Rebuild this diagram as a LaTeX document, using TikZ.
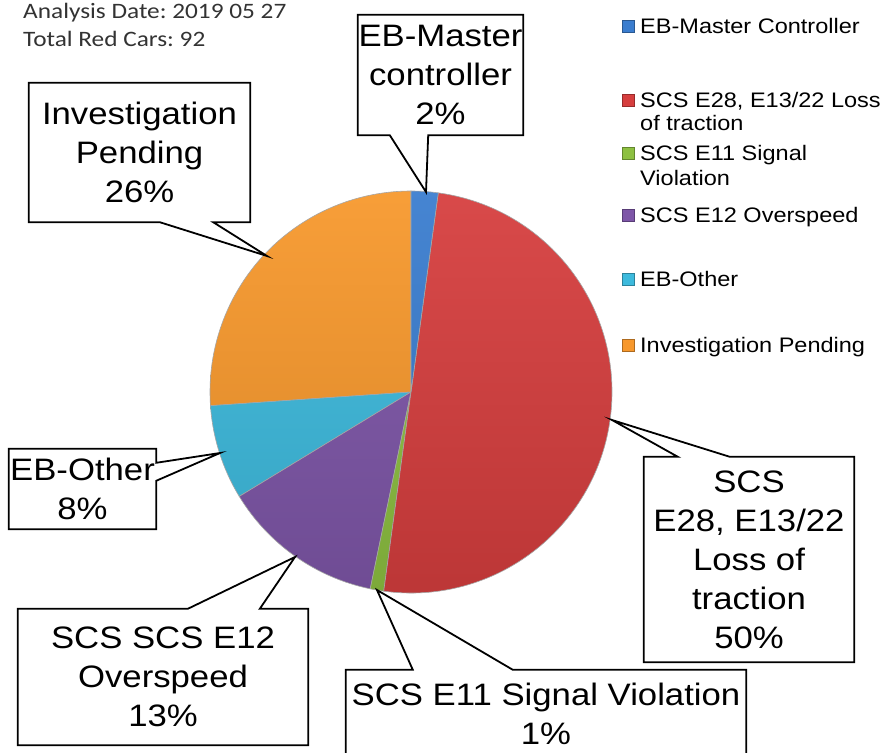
\documentclass[tikz,border=0pt]{standalone}
\usepackage{fontspec}
\setmainfont{Liberation Sans}[FakeStretch=1.12]
\newfontfamily\notefont{Carlito}[FakeStretch=1.15]
\usepackage{tikz}
\usetikzlibrary{calc}
\frenchspacing

\definecolor{cBlue}{HTML}{3A7DCF}
\definecolor{cRed}{HTML}{D63E3E}
\definecolor{cGreen}{HTML}{8DC041}
\definecolor{cPurple}{HTML}{7E56A8}
\definecolor{cCyan}{HTML}{3DBADD}
\definecolor{cOrange}{HTML}{F7982C}

\begin{document}
\begin{tikzpicture}[
  x=1pt, y=-1pt,
  callout/.style={draw, line width=1.8pt, line join=miter},
  lbl/.style={align=center, inner sep=0pt, font=\fontsize{31}{39}\selectfont},
  legtext/.style={anchor=base west, inner sep=0pt, font=\fontsize{21}{24}\selectfont},
  legkey/.style={minimum size=12pt, inner sep=0pt, line width=0.5pt},
  note/.style={anchor=base west, inner sep=0pt, text=black!80, font=\notefont\fontsize{22}{28}\selectfont},
  slice edge/.style={draw=black!35, line width=0.6pt}
]
\clip (0,0) rectangle (888,752);
\fill[white] (0,0) rectangle (888,752);

%% ---- NOTE (top left) ----
\node[note] (date)  at (23,19) {Analysis Date: 2019 05 27};
\node[note] (total) at (23,47) {Total Red Cars: 92};

%% ---- PIE ----
\coordinate (pie) at (411,392);
\foreach \a/\b/\col in {-90/-183.9/cOrange, -183.9/-211.3/cCyan, -211.3/-258.3/cPurple,
                        -258.3/-262.2/cGreen, -262.2/-442.2/cRed, -442.2/-450/cBlue}{
  \begin{scope}
    \clip (pie) -- ++(\a:201) arc[start angle=\a, end angle=\b, radius=201] -- cycle;
    \shade[top color=\col!94!white, bottom color=\col!88!black]
      ($(pie)+(-201,-201)$) rectangle ($(pie)+(201,201)$);
  \end{scope}
  \draw[slice edge] (pie) -- ++(\a:201) arc[start angle=\a, end angle=\b, radius=201] -- cycle;
}

%% ---- Pointer tips on the rim ----
\coordinate (tInv) at (267,256);
\coordinate (tEbm) at (426,192);
\coordinate (tScs) at (612,420);
\coordinate (tE11) at (377,590);
\coordinate (tEbo) at (220,453);
\coordinate (tE12) at (295,557);

%% ---- Callout labels ----
\node[lbl, minimum width=221pt, minimum height=139pt] at (139.5,152.5) (inv) {Investigation\\Pending\\26\%};
\node[lbl, minimum width=165pt, minimum height=120pt] at (440.5,75)   (ebm) {EB-Master\\controller\\2\%};
\node[lbl, minimum width=210pt, minimum height=205pt] at (749,559.5)  (scs) {SCS\\E28, E13/22\\Loss of\\traction\\50\%};
\node[lbl, minimum width=400pt, minimum height=88pt]  at (546,714)    (e11) {SCS E11 Signal Violation\\1\%};
\node[lbl, minimum width=147pt, minimum height=80pt]  at (82.5,489)   (ebo) {EB-Other\\8\%};
\node[lbl, minimum width=290pt, minimum height=136pt] at (163,677)    (e12) {SCS SCS E12\\Overspeed\\13\%};

\draw[callout] (inv.south west) -- (inv.north west) -- (inv.north east) -- (inv.south east)
  -- ($(inv.south east)+(-37,0)$) -- (tInv) -- ($(inv.south west)+(131,0)$) -- cycle;
\draw[callout] (ebm.north west) -- (ebm.north east) -- (ebm.south east)
  -- ($(ebm.south east)+(-95,0)$) -- (tEbm) -- ($(ebm.south west)+(32,0)$) -- (ebm.south west) -- cycle;
\draw[callout] (scs.north west) -- ($(scs.north west)+(34,0)$) -- (tScs) -- ($(scs.north west)+(86,0)$)
  -- (scs.north east) -- (scs.south east) -- (scs.south west) -- cycle;
\draw[callout] (e11.north west) -- ($(e11.north west)+(67,0)$) -- (tE11) -- ($(e11.north west)+(167,0)$)
  -- (e11.north east) -- (e11.south east) -- (e11.south west) -- cycle;
\draw[callout] (ebo.north west) -- (ebo.north east) -- ($(ebo.north east)+(0,14)$) -- (tEbo)
  -- ($(ebo.north east)+(0,32)$) -- (ebo.south east) -- (ebo.south west) -- cycle;
\draw[callout] (e12.north west) -- ($(e12.north west)+(170,0)$) -- (tE12) -- ($(e12.north west)+(242,0)$)
  -- (e12.north east) -- (e12.south east) -- (e12.south west) -- cycle;

%% ---- Legend ----
\foreach \y/\col/\name in {26/cBlue/kBlue, 100/cRed/kRed, 153/cGreen/kGreen,
                           215/cPurple/kPurple, 279/cCyan/kCyan, 345/cOrange/kOrange}
  \node[legkey, fill=\col, draw=\col!70!black] (\name) at (628.5,\y) {};
\node[legtext] (l1)  at (640,33.5)  {EB-Master Controller};
\node[legtext] (l2)  at (640,107.5) {SCS E28, E13/22 Loss};
\node[legtext] (l2b) at (640,130.5) {of traction};
\node[legtext] (l3)  at (640,160.5) {SCS E11 Signal};
\node[legtext] (l3b) at (640,185.5) {Violation};
\node[legtext] (l4)  at (640,222.5) {SCS E12 Overspeed};
\node[legtext] (l5)  at (640,286.5) {EB-Other};
\node[legtext] (l6)  at (640,352.5) {Investigation Pending};
\end{tikzpicture}
\end{document}
